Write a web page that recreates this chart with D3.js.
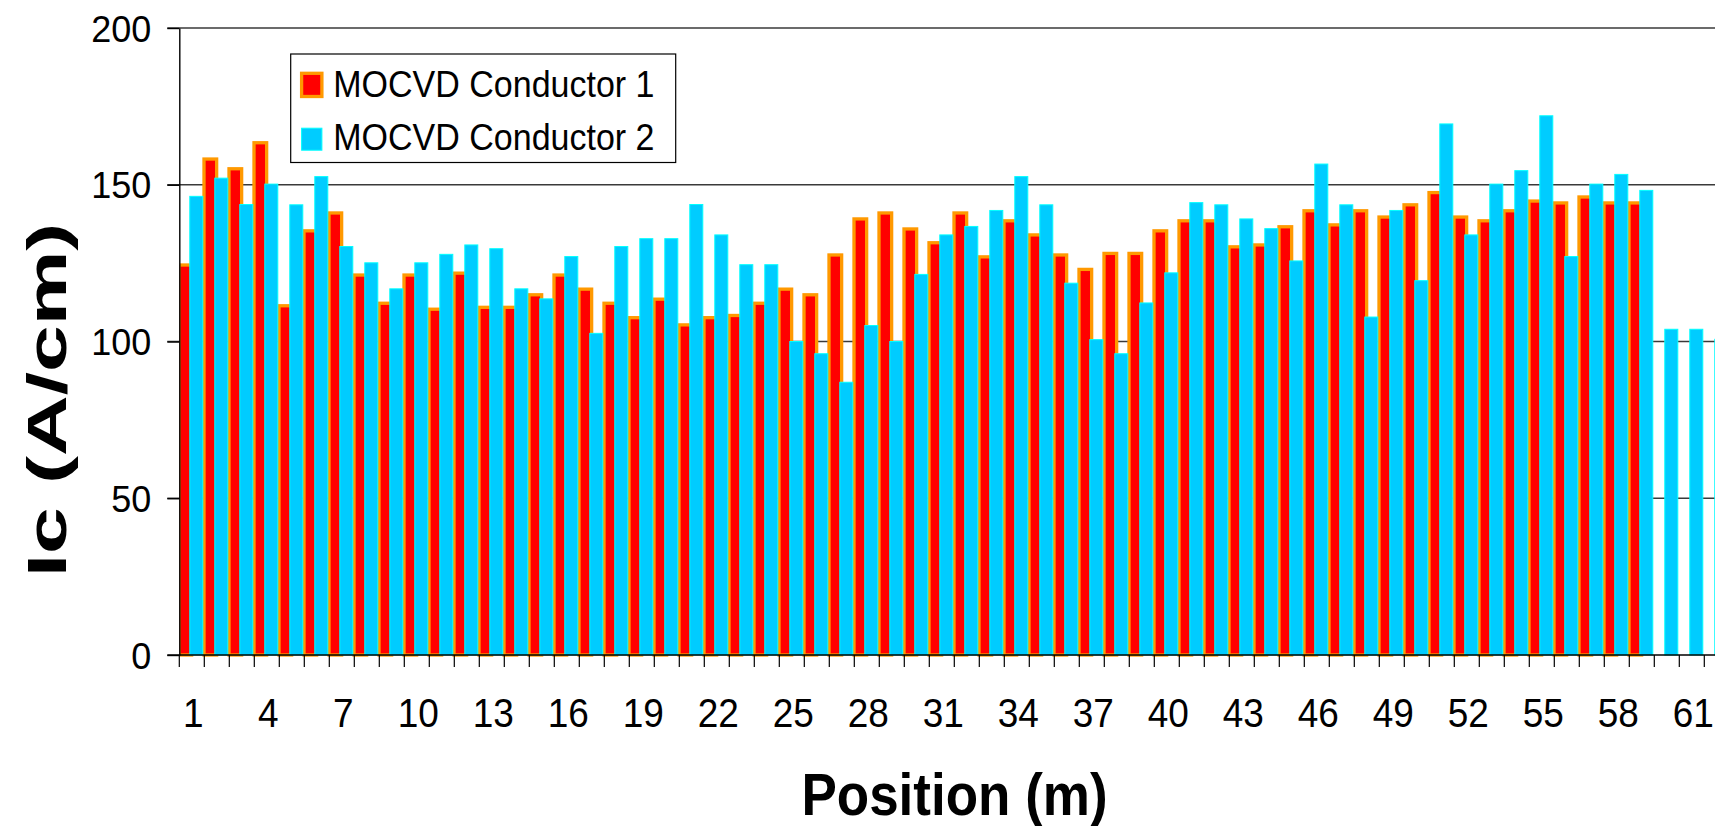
<!DOCTYPE html>
<html>
<head>
<meta charset="utf-8">
<script src="https://cdn.jsdelivr.net/npm/d3@7"></script>
<style>
  html, body { margin: 0; padding: 0; background: #ffffff; }
  svg { display: block; }
  text { font-family: "Liberation Sans", Arial, sans-serif; fill: #000; }
</style>
</head>
<body>
<svg id="chart" width="1715" height="826"></svg>
<script>
// Critical current along the tape length for two MOCVD conductors
const positions = [1, 2, 3, 4, 5, 6, 7, 8, 9, 10, 11, 12, 13, 14, 15, 16, 17, 18, 19, 20,
  21, 22, 23, 24, 25, 26, 27, 28, 29, 30, 31, 32, 33, 34, 35, 36, 37, 38, 39, 40,
  41, 42, 43, 44, 45, 46, 47, 48, 49, 50, 51, 52, 53, 54, 55, 56, 57, 58, 59, 60, 61, 62];

const conductor1 = [124.4, 158.2, 155.1, 163.4, 111.4, 135.3, 141.0, 121.2, 112.2, 121.2,
  110.3, 121.8, 110.9, 110.9, 114.9, 121.2, 116.7, 112.2, 107.6, 113.5,
  105.3, 107.6, 108.3, 112.2, 116.7, 114.9, 127.6, 139.1, 141.0, 135.9,
  131.5, 141.0, 127.0, 138.5, 134.0, 127.6, 123.0, 128.1, 128.1, 135.3,
  138.5, 138.5, 130.2, 130.8, 136.6, 141.7, 137.2, 141.7, 139.7, 143.6,
  147.5, 139.7, 138.5, 141.7, 144.8, 144.2, 146.1, 144.2, 144.2, null, null, null];

const conductor2 = [146.3, 152.1, 143.7, 150.2, 143.6, 152.6, 130.3, 125.1, 116.8, 125.1,
  127.8, 130.8, 129.6, 116.8, 113.6, 127.1, 102.6, 130.3, 132.8, 132.8,
  143.7, 134.0, 124.5, 124.5, 100.0, 96.1, 87.0, 105.1, 100.0, 121.4,
  134.0, 136.7, 141.8, 152.6, 143.6, 118.6, 100.6, 96.1, 112.3, 121.9,
  144.3, 143.6, 139.1, 136.0, 125.7, 156.6, 143.6, 107.8, 141.8, 119.4,
  169.4, 134.0, 150.2, 154.5, 172.0, 127.1, 150.2, 153.3, 148.2, 103.9, 103.9, 100.7];

const seriesNames = ["MOCVD Conductor 1", "MOCVD Conductor 2"];
const xTickLabels = [1, 4, 7, 10, 13, 16, 19, 22, 25, 28, 31, 34, 37, 40, 43, 46, 49, 52, 55, 58, 61];
const yTickValues = [0, 50, 100, 150, 200];
const yTitle = "Ic (A/cm)";
const xTitle = "Position (m)";

const W = 1715, H = 826;
const plotLeft = 179.3, plotTop = 28, plotBottom = 655;
const step = 25;
const STRETCH = 1.1;   // text is drawn slightly taller than wide

const svg = d3.select("#chart");

const x = d3.scaleBand().domain(positions).range([plotLeft, plotLeft + positions.length * step]).padding(0);
const y = d3.scaleLinear().domain([0, 200]).range([plotBottom, plotTop]);
const bw = x.bandwidth();

// horizontal gridlines
svg.append("g").selectAll("line")
  .data(yTickValues.filter(v => v > 0))
  .join("line")
  .attr("x1", plotLeft - 12).attr("x2", W + 20)
  .attr("y1", d => y(d)).attr("y2", d => y(d))
  .attr("stroke", "#3a3a3a").attr("stroke-width", 1.4);

// bars, clipped at the value axis
svg.append("defs").append("clipPath").attr("id", "plotClip")
  .append("rect").attr("x", plotLeft + 0.5).attr("y", 0).attr("width", W).attr("height", H);

const bars = svg.append("g").attr("clip-path", "url(#plotClip)");

const redData = positions.map((p, i) => ({ p, v: conductor1[i] })).filter(d => d.v != null);
const cyanData = positions.map((p, i) => ({ p, v: conductor2[i] })).filter(d => d.v != null);

bars.append("g").selectAll("rect")
  .data(redData)
  .join("rect")
  .attr("x", d => x(d.p) - 0.012 * bw)
  .attr("width", 0.506 * bw)
  .attr("y", d => y(d.v))
  .attr("height", d => y(0) - y(d.v))
  .attr("fill", "#ff0000")
  .attr("stroke", "#ff9900")
  .attr("stroke-width", 3.3);

bars.append("g").selectAll("rect")
  .data(cyanData)
  .join("rect")
  .attr("x", d => x(d.p) + 0.42 * bw)
  .attr("width", 0.52 * bw)
  .attr("y", d => y(d.v))
  .attr("height", d => y(0) - y(d.v))
  .attr("fill", "#00ccff")
  .attr("stroke", "#00ffff")
  .attr("stroke-width", 1);

// value axis
const yAxis = svg.append("g")
  .attr("transform", `translate(${plotLeft},0)`)
  .call(d3.axisLeft(y).tickValues(yTickValues).tickSize(12).tickSizeOuter(0));
yAxis.select(".domain").attr("stroke", "#000").attr("stroke-width", 1.4);
yAxis.selectAll(".tick line").attr("stroke", "#000").attr("stroke-width", 1.4);
yAxis.selectAll(".tick text")
  .attr("x", null).attr("dy", null).attr("y", null)
  .attr("text-anchor", "end")
  .attr("font-size", 36)
  .attr("transform", `translate(-28,13.2) scale(1,1.04)`);

// category axis
const xAxis = svg.append("g")
  .attr("transform", `translate(0,${plotBottom})`)
  .call(d3.axisBottom(x).tickValues(xTickLabels).tickSize(0).tickSizeOuter(0));
xAxis.select(".domain").remove();
xAxis.selectAll(".tick text")
  .attr("y", null).attr("dy", null)
  .attr("text-anchor", "middle")
  .attr("font-size", 37)
  .attr("transform", `translate(1.5,71.5) scale(1,${STRETCH})`);

svg.append("line")
  .attr("x1", plotLeft - 12).attr("x2", W + 20)
  .attr("y1", plotBottom).attr("y2", plotBottom)
  .attr("stroke", "#000").attr("stroke-width", 1.6);

svg.append("g").selectAll("line")
  .data(positions)
  .join("line")
  .attr("x1", d => x(d)).attr("x2", d => x(d))
  .attr("y1", plotBottom).attr("y2", plotBottom + 12)
  .attr("stroke", "#000").attr("stroke-width", 1.2);

// axis titles
svg.append("text")
  .attr("transform", `translate(954.5,815) scale(1,${STRETCH})`)
  .attr("text-anchor", "middle")
  .attr("font-weight", "bold")
  .attr("font-size", 53)
  .text(xTitle);

svg.append("text")
  .attr("transform", `translate(66,400) scale(1,1.5) rotate(-90)`)
  .attr("text-anchor", "middle")
  .attr("font-weight", "bold")
  .attr("font-size", 56)
  .text(yTitle);

// legend
const legend = svg.append("g");
legend.append("rect")
  .attr("x", 290.7).attr("y", 54).attr("width", 385).attr("height", 108.5)
  .attr("fill", "#fff").attr("stroke", "#000").attr("stroke-width", 1.2);

const legendItems = [
  { name: seriesNames[0], fill: "#ff0000", stroke: "#ff9900", sw: 3.3, y: 73.3, h: 23.2, baseline: 97.3 },
  { name: seriesNames[1], fill: "#00ccff", stroke: "#00ffff", sw: 1, y: 128.2, h: 22, baseline: 150 }
];
legendItems.forEach(it => {
  legend.append("rect")
    .attr("x", 301.6).attr("y", it.y).attr("width", 20.3).attr("height", it.h)
    .attr("fill", it.fill).attr("stroke", it.stroke).attr("stroke-width", it.sw);
  legend.append("text")
    .attr("transform", `translate(333.3,${it.baseline}) scale(1,${STRETCH})`)
    .attr("font-size", 34)
    .text(it.name);
});
</script>
</body>
</html>
